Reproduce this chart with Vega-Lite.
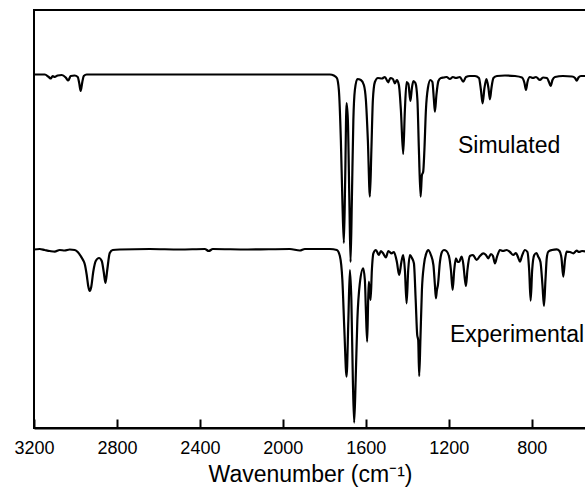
{
"$schema": "https://vega.github.io/schema/vega-lite/v6.json",
"width": 552, "height": 418,
"padding": {"left": 34, "top": 10, "right": 0, "bottom": 62},
"autosize": {"type": "none"},
"config": {"view": {"stroke": "black", "strokeWidth": 2}, "font": "Liberation Sans"},
"datasets": {
"sim": [
{"wavenumber":3200,"intensity":353.5},{"wavenumber":3148,"intensity":353.5},{"wavenumber":3129,"intensity":351},{"wavenumber":3119,"intensity":349.5},{"wavenumber":3110,"intensity":352},{"wavenumber":3100,"intensity":351},{"wavenumber":3086,"intensity":352.5},{"wavenumber":3066,"intensity":353},{"wavenumber":3047,"intensity":350.5},{"wavenumber":3035,"intensity":347.5},{"wavenumber":3023,"intensity":352},{"wavenumber":3004,"intensity":352.5},{"wavenumber":2989,"intensity":351},{"wavenumber":2982,"intensity":345},{"wavenumber":2975,"intensity":337},{"wavenumber":2967,"intensity":346},{"wavenumber":2960,"intensity":352},{"wavenumber":2946,"intensity":353.5},{"wavenumber":1773,"intensity":353.5},{"wavenumber":1754,"intensity":352.5},{"wavenumber":1739.5,"intensity":350},{"wavenumber":1729.8,"intensity":338},{"wavenumber":1720.2,"intensity":288},{"wavenumber":1712.9,"intensity":228},{"wavenumber":1705.7,"intensity":185},{"wavenumber":1699.4,"intensity":248},{"wavenumber":1692.7,"intensity":325},{"wavenumber":1686.4,"intensity":308},{"wavenumber":1679.2,"intensity":228},{"wavenumber":1673.4,"intensity":166},{"wavenumber":1667.1,"intensity":228},{"wavenumber":1659.9,"intensity":308},{"wavenumber":1652.6,"intensity":338},{"wavenumber":1640.6,"intensity":349},{"wavenumber":1623.7,"intensity":348},{"wavenumber":1609.2,"intensity":343},{"wavenumber":1599.5,"intensity":328},{"wavenumber":1590,"intensity":288},{"wavenumber":1580.2,"intensity":231.3},{"wavenumber":1573,"intensity":278},{"wavenumber":1565.8,"intensity":328},{"wavenumber":1556.1,"intensity":346},{"wavenumber":1541.6,"intensity":350},{"wavenumber":1522.3,"intensity":349.5},{"wavenumber":1507.9,"intensity":351},{"wavenumber":1492,"intensity":345.7},{"wavenumber":1481.3,"intensity":350},{"wavenumber":1469.3,"intensity":349},{"wavenumber":1459.6,"intensity":344.7},{"wavenumber":1450,"intensity":348},{"wavenumber":1440.3,"intensity":343},{"wavenumber":1430.7,"intensity":318},{"wavenumber":1419.6,"intensity":274},{"wavenumber":1411.4,"intensity":318},{"wavenumber":1403.2,"intensity":346},{"wavenumber":1394.5,"intensity":344},{"wavenumber":1384.8,"intensity":327},{"wavenumber":1377.6,"intensity":340},{"wavenumber":1370.4,"intensity":347},{"wavenumber":1360.7,"intensity":345},{"wavenumber":1351,"intensity":328},{"wavenumber":1343.8,"intensity":278},{"wavenumber":1335.6,"intensity":231.3},{"wavenumber":1329.3,"intensity":253},{"wavenumber":1323.1,"intensity":256.3},{"wavenumber":1317.3,"intensity":278},{"wavenumber":1310,"intensity":318},{"wavenumber":1300.4,"intensity":340},{"wavenumber":1288.3,"intensity":348},{"wavenumber":1278.7,"intensity":346},{"wavenumber":1271.4,"intensity":328},{"wavenumber":1266.6,"intensity":316.3},{"wavenumber":1259.4,"intensity":333},{"wavenumber":1249.7,"intensity":347},{"wavenumber":1237.7,"intensity":350},{"wavenumber":1223.2,"intensity":350.5},{"wavenumber":1210.2,"intensity":351},{"wavenumber":1194.2,"intensity":349},{"wavenumber":1179.8,"intensity":351},{"wavenumber":1165.3,"intensity":350},{"wavenumber":1146,"intensity":351},{"wavenumber":1130.1,"intensity":346.3},{"wavenumber":1117,"intensity":351},{"wavenumber":1097.8,"intensity":352},{"wavenumber":1073.6,"intensity":352},{"wavenumber":1054.3,"intensity":350},{"wavenumber":1044.7,"intensity":338},{"wavenumber":1036.5,"intensity":324.7},{"wavenumber":1027.8,"intensity":340},{"wavenumber":1018.1,"intensity":349},{"wavenumber":1008.5,"intensity":340},{"wavenumber":1001.2,"intensity":328.7},{"wavenumber":994,"intensity":340},{"wavenumber":984.4,"intensity":350},{"wavenumber":967.5,"intensity":352},{"wavenumber":928.9,"intensity":352.5},{"wavenumber":880.6,"intensity":352},{"wavenumber":846.8,"intensity":350.5},{"wavenumber":834.8,"intensity":345},{"wavenumber":827.5,"intensity":338},{"wavenumber":820.3,"intensity":346},{"wavenumber":808.2,"intensity":351},{"wavenumber":793.8,"intensity":350},{"wavenumber":779.3,"intensity":351},{"wavenumber":760,"intensity":348},{"wavenumber":745.5,"intensity":350.5},{"wavenumber":726.2,"intensity":350},{"wavenumber":716.6,"intensity":346},{"wavenumber":708.4,"intensity":342},{"wavenumber":699.7,"intensity":348},{"wavenumber":687.6,"intensity":351},{"wavenumber":649,"intensity":352},{"wavenumber":605.6,"intensity":351.5},{"wavenumber":591.1,"intensity":350},{"wavenumber":582.9,"intensity":347.3},{"wavenumber":574.2,"intensity":350.5},{"wavenumber":562.2,"intensity":352},{"wavenumber":538,"intensity":352}
],
"exp": [
{"wavenumber":3200,"intensity":178.5},{"wavenumber":3172.5,"intensity":179},{"wavenumber":3148.4,"intensity":178},{"wavenumber":3124.2,"intensity":177},{"wavenumber":3100.1,"intensity":176.3},{"wavenumber":3076,"intensity":178},{"wavenumber":3051.9,"intensity":177.5},{"wavenumber":3027.7,"intensity":178.5},{"wavenumber":3003.6,"intensity":178},{"wavenumber":2989.1,"intensity":176},{"wavenumber":2974.7,"intensity":172},{"wavenumber":2963.6,"intensity":168},{"wavenumber":2955.4,"intensity":164},{"wavenumber":2945.7,"intensity":153},{"wavenumber":2938.5,"intensity":142},{"wavenumber":2931.2,"intensity":137},{"wavenumber":2924,"intensity":141},{"wavenumber":2914.4,"intensity":156},{"wavenumber":2902.3,"intensity":167},{"wavenumber":2886.4,"intensity":170},{"wavenumber":2873.3,"intensity":167},{"wavenumber":2863.7,"intensity":156},{"wavenumber":2855.5,"intensity":145},{"wavenumber":2846.8,"intensity":158},{"wavenumber":2834.7,"intensity":175},{"wavenumber":2820.3,"intensity":178},{"wavenumber":2786.5,"intensity":178.5},{"wavenumber":2641.7,"intensity":179},{"wavenumber":2497,"intensity":178.5},{"wavenumber":2376.4,"intensity":179},{"wavenumber":2357.1,"intensity":177},{"wavenumber":2337.8,"intensity":179},{"wavenumber":2168.9,"intensity":178.5},{"wavenumber":1966.3,"intensity":179},{"wavenumber":1918,"intensity":177.5},{"wavenumber":1893.9,"intensity":179},{"wavenumber":1773.3,"intensity":179},{"wavenumber":1739.5,"intensity":178},{"wavenumber":1725,"intensity":172},{"wavenumber":1712.9,"intensity":148},{"wavenumber":1703.3,"intensity":98},{"wavenumber":1692.7,"intensity":51.3},{"wavenumber":1684,"intensity":108},{"wavenumber":1676.7,"intensity":158},{"wavenumber":1669.5,"intensity":128},{"wavenumber":1662.3,"intensity":48},{"wavenumber":1656,"intensity":5.3},{"wavenumber":1648.8,"intensity":48},{"wavenumber":1640.6,"intensity":108},{"wavenumber":1628.5,"intensity":145},{"wavenumber":1612.6,"intensity":159.7},{"wavenumber":1604.4,"intensity":148},{"wavenumber":1599.5,"intensity":118},{"wavenumber":1593.3,"intensity":86.3},{"wavenumber":1588.5,"intensity":128},{"wavenumber":1585.1,"intensity":146.3},{"wavenumber":1576.9,"intensity":128},{"wavenumber":1570.6,"intensity":158},{"wavenumber":1563.4,"intensity":174.7},{"wavenumber":1551.3,"intensity":178},{"wavenumber":1536.8,"intensity":173},{"wavenumber":1527.2,"intensity":177},{"wavenumber":1517.5,"intensity":175},{"wavenumber":1503.1,"intensity":170.7},{"wavenumber":1491,"intensity":177},{"wavenumber":1475.5,"intensity":174.7},{"wavenumber":1464.4,"intensity":176},{"wavenumber":1450,"intensity":166},{"wavenumber":1438.9,"intensity":153},{"wavenumber":1428.3,"intensity":166},{"wavenumber":1419.6,"intensity":173},{"wavenumber":1411.4,"intensity":158},{"wavenumber":1403.2,"intensity":124.7},{"wavenumber":1395.4,"intensity":158},{"wavenumber":1387.3,"intensity":173},{"wavenumber":1377.6,"intensity":170},{"wavenumber":1367.9,"intensity":164.7},{"wavenumber":1359.3,"intensity":128},{"wavenumber":1352,"intensity":93},{"wavenumber":1347.2,"intensity":88},{"wavenumber":1342.4,"intensity":52},{"wavenumber":1336.6,"intensity":88},{"wavenumber":1329.3,"intensity":138},{"wavenumber":1319.7,"intensity":163},{"wavenumber":1307.6,"intensity":175},{"wavenumber":1299,"intensity":178},{"wavenumber":1285.9,"intensity":173},{"wavenumber":1273.9,"intensity":163},{"wavenumber":1266.6,"intensity":143},{"wavenumber":1261.8,"intensity":129.7},{"wavenumber":1257,"intensity":138},{"wavenumber":1252.1,"intensity":143},{"wavenumber":1242.5,"intensity":166},{"wavenumber":1232.8,"intensity":176},{"wavenumber":1223.2,"intensity":178},{"wavenumber":1211.1,"intensity":177},{"wavenumber":1199.1,"intensity":172},{"wavenumber":1189.4,"intensity":158},{"wavenumber":1181.2,"intensity":138},{"wavenumber":1173.5,"intensity":158},{"wavenumber":1165.3,"intensity":169.7},{"wavenumber":1156.6,"intensity":166},{"wavenumber":1149.4,"intensity":166.3},{"wavenumber":1137.8,"intensity":171.3},{"wavenumber":1129.1,"intensity":163},{"wavenumber":1122.8,"intensity":150},{"wavenumber":1117,"intensity":142},{"wavenumber":1109.8,"intensity":158},{"wavenumber":1097.8,"intensity":172},{"wavenumber":1083.2,"intensity":173},{"wavenumber":1065.4,"intensity":168},{"wavenumber":1049.5,"intensity":172},{"wavenumber":1033.6,"intensity":174.7},{"wavenumber":1020.5,"intensity":173},{"wavenumber":1009.4,"intensity":169.7},{"wavenumber":996.4,"intensity":174},{"wavenumber":986.8,"intensity":172},{"wavenumber":977.1,"intensity":164.7},{"wavenumber":967.5,"intensity":171},{"wavenumber":953,"intensity":178},{"wavenumber":938.5,"intensity":177},{"wavenumber":920.7,"intensity":178},{"wavenumber":904.7,"intensity":176},{"wavenumber":888.8,"intensity":173},{"wavenumber":875.8,"intensity":175},{"wavenumber":866.1,"intensity":171},{"wavenumber":856.5,"intensity":166.3},{"wavenumber":846.8,"intensity":172},{"wavenumber":832.4,"intensity":178},{"wavenumber":820.3,"intensity":176},{"wavenumber":812.1,"intensity":158},{"wavenumber":804.9,"intensity":127.3},{"wavenumber":797.6,"intensity":158},{"wavenumber":787.5,"intensity":173},{"wavenumber":776.9,"intensity":175},{"wavenumber":768.2,"intensity":171.3},{"wavenumber":757.6,"intensity":166},{"wavenumber":748,"intensity":143},{"wavenumber":740.7,"intensity":122},{"wavenumber":733.5,"intensity":148},{"wavenumber":727.2,"intensity":170},{"wavenumber":720,"intensity":176.3},{"wavenumber":702.1,"intensity":178},{"wavenumber":679.4,"intensity":178.7},{"wavenumber":665.9,"intensity":177},{"wavenumber":656.3,"intensity":170},{"wavenumber":647.6,"intensity":151.3},{"wavenumber":639.4,"intensity":168},{"wavenumber":631.2,"intensity":176.3},{"wavenumber":615.2,"intensity":176},{"wavenumber":599.3,"intensity":174.7},{"wavenumber":582.9,"intensity":177.3},{"wavenumber":571.8,"intensity":176},{"wavenumber":557.3,"intensity":177},{"wavenumber":538,"intensity":176.3}
],
"labels": [
{"label":"Simulated","wavenumber":1155.6,"intensity":274.7},
{"label":"Experimental","wavenumber":1194.2,"intensity":86.3}
]
},
"encoding": {
"x": {"field": "wavenumber", "type": "quantitative",
 "scale": {"domain": [538, 3200], "reverse": true, "nice": false, "zero": false},
 "axis": {"values": [3200, 2800, 2400, 2000, 1600, 1200, 800], "format": "d", "title": "Wavenumber (cm⁻¹)", "grid": false,
  "labelFontSize": 18, "titleFontSize": 23, "labelFont": "Liberation Sans", "titleFont": "Liberation Sans", "titleFontWeight": "normal",
  "tickSize": -9, "tickWidth": 2, "tickColor": "black", "domainColor": "black", "domainWidth": 2,
  "labelColor": "black", "titleColor": "black", "labelPadding": 20, "titlePadding": 6, "labelFlush": false, "labelOverlap": false}},
"y": {"field": "intensity", "type": "quantitative", "scale": {"domain": [0, 418], "nice": false, "zero": false}, "axis": null}
},
"layer": [
{"data": {"name": "sim"}, "mark": {"type": "line", "color": "black", "strokeWidth": 2.2, "interpolate": "monotone"}},
{"data": {"name": "exp"}, "mark": {"type": "line", "color": "black", "strokeWidth": 2.2, "interpolate": "monotone"}},
{"data": {"name": "labels"}, "mark": {"type": "text", "align": "left", "baseline": "alphabetic", "fontSize": 23, "font": "Liberation Sans", "color": "black"},
 "encoding": {"text": {"field": "label"}}}
]
}
